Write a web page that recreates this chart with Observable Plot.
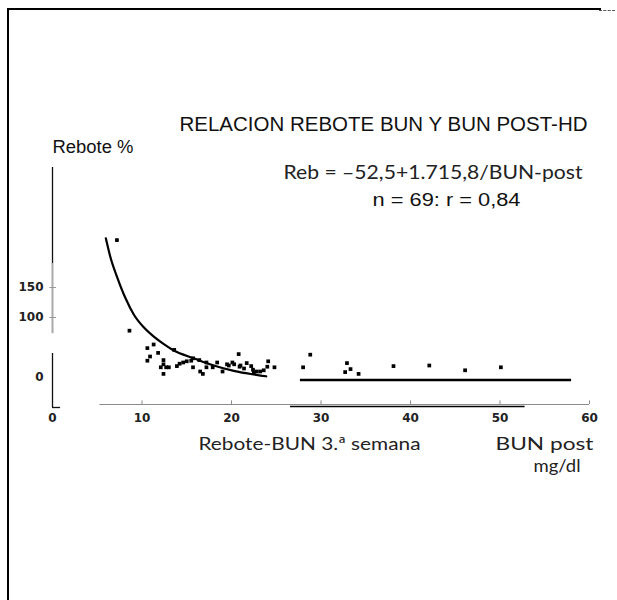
<!DOCTYPE html>
<html><head><meta charset="utf-8">
<script src="https://cdn.jsdelivr.net/npm/d3@7"></script>
<script src="https://cdn.jsdelivr.net/npm/@observablehq/plot@0.6"></script>
<style>
html,body{margin:0;padding:0;background:#fff;}
#wrap{position:relative;width:617px;height:600px;overflow:hidden;background:#fff;}
#wrap svg{position:absolute;left:0;top:0;}
#border{position:absolute;left:7px;top:8px;width:592px;height:600px;border-left:2px solid #000;border-top:2px solid #000;}
#dash{position:absolute;left:599px;top:10px;width:16px;height:0;border-top:1px dashed #555;}
</style></head><body>
<div id="wrap"></div>
<script>
// ---- data ----
const bunPost = [7.2,8.6,10.6,11.3,11.8,10.6,10.9,12.4,12.4,12.1,12.7,13.0,12.4,13.6,13.9,14.2,14.6,15.0,15.7,15.7,16.4,16.5,16.8,17.2,17.2,17.9,18.4,19.0,19.5,20.1,20.3,20.8,20.9,21.4,21.7,22.2,22.4,22.5,22.8,23.2,24.1,24.0,24.8,15.5,19.7,23.6,21.0,28.0,28.8,32.9,33.3,32.7,34.2,38.1,42.1,46.1,50.1];
const rebote  = [229,78,49,55,41,28,35,29,22,17,17,17,6,46,19,23,25,27,32,17,29,10,6,25,17,17,25,10,22,25,22,39,18,15,24,19,13,8,10,10,27,18,17,28,20,12,20,17,38,24,14,9,6,19,20,12,17];
const curveBun = [5.96,6.48,7.23,8.16,9.08,10.17,11.32,12.40,13.55,15.79,18.02,20.26,22.49,23.88];
const curveReb = [232,200,167,132,105,84,68,56,45,32,20,11,5,2];
const flatBun = [27.7,58];
const flatReb = -4;
const xTicks = [0,10,20,30,40,50,60];
const yTicks = [0,100,150];
const title = "RELACION REBOTE BUN Y BUN POST-HD";
const yLabel = "Rebote %";
const equation = "Reb = \u201352,5+1.715,8/BUN-post";
const stats = "n = 69: r = 0,84";
const xLabel = "Rebote-BUN 3.\u00aa semana";
const unitLabel1 = "BUN post";
const unitLabel2 = "mg/dl";

const points = bunPost.map((b,i)=>({bun:b, reb:rebote[i]}));
const curve = curveBun.map((b,i)=>({bun:b, reb:curveReb[i]}));
const yAxisSegs = [{a:350,b:190,c:"#111"},{a:190,b:73,c:"#aaa"},{a:40,b:-50,c:"#111"}];

const txt = (s, dx, dy, o={}) => Plot.text([s], {text:d=>d, frameAnchor:"top-left", dx, dy, textAnchor:"start", lineAnchor:"bottom", fill:"#111", ...o});

const svg = Plot.plot({
  width: 617, height: 600,
  marginTop: 0, marginRight: 0, marginBottom: 0, marginLeft: 0,
  style: {background: "transparent", overflow: "visible"},
  x: {domain:[0,60], range:[52,589], axis:null},
  y: {domain:[0,150], range:[377,287], axis:null},
  marks: [
    // x axis
    Plot.ruleY([-45], {x1:5.3, x2:60, stroke:"#8a8a8a", strokeWidth:1}),
    Plot.ruleX(xTicks.filter(d=>d>0), {x:d=>d, y1:-45, y2:-39, stroke:"#8a8a8a", strokeWidth:1}),
    Plot.text(xTicks, {x:d=>d, y:-45, dy:14, text:d=>String(d), fontWeight:"bold", fontSize:12, fontFamily:"DejaVu Sans", fill:"#222"}),
    Plot.ruleY([-48.3], {x1:26.6, x2:52.8, stroke:"#000", strokeWidth:1.5}),
    // y axis
    Plot.ruleX(yAxisSegs, {x:0, y1:"a", y2:"b", stroke:"c", strokeWidth:d=>d.c==="#aaa"?2:1.3}),
    Plot.ruleY([-50], {x1:0, x2:0.9, stroke:"#111", strokeWidth:1.3}),
    Plot.ruleY(yTicks.filter(d=>d>0), {x1:-0.3, x2:0.45, stroke:"#999", strokeWidth:1}),
    Plot.text(yTicks, {x:0, y:d=>d, dx:-9, textAnchor:"end", text:d=>String(d), fontWeight:"bold", fontSize:12, fontFamily:"DejaVu Sans", fill:"#222"}),
    // fitted curve and line
    Plot.line(curve, {x:"bun", y:"reb", curve:"monotone-x", stroke:"#000", strokeWidth:2.2}),
    Plot.ruleY([flatReb], {x1:flatBun[0], x2:flatBun[1], stroke:"#000", strokeWidth:2.5}),
    // points
    Plot.dot(points, {x:"bun", y:"reb", symbol:"square", r:2.1, fill:"#000", stroke:"none"}),
    // texts
    txt(title, 179, 130, {fontSize:20, fontFamily:"Liberation Sans"}),
    txt(yLabel, 52, 152, {fontSize:18, fontFamily:"Liberation Sans"}),
    txt(equation, 283, 178, {fontSize:20, fontFamily:"Lato", fill:"#222"}),
    txt(stats, 372, 205, {fontSize:18, fontFamily:"Liberation Sans"}),
    txt(xLabel, 198, 449, {fontSize:18, fontFamily:"Lato", fill:"#222"}),
    txt(unitLabel1, 495, 449, {fontSize:18, fontFamily:"Lato", fill:"#222"}),
    txt(unitLabel2, 533, 471, {fontSize:18, fontFamily:"Lato", fill:"#222"})
  ]
});

const fit = {};
fit[title]=408; fit[yLabel]=81; fit[equation]=299; fit[stats]=148; fit[xLabel]=222; fit[unitLabel1]=98; fit[unitLabel2]=47;
d3.select(svg).selectAll("text").each(function(){
  const t = this.textContent;
  if (fit[t] !== undefined) { this.setAttribute("textLength", fit[t]); this.setAttribute("lengthAdjust", "spacingAndGlyphs"); }
});

const wrap = document.getElementById("wrap");
wrap.appendChild(svg);
const b = document.createElement("div"); b.id = "border"; wrap.appendChild(b);
const dsh = document.createElement("div"); dsh.id = "dash"; wrap.appendChild(dsh);
</script>
</body></html>
